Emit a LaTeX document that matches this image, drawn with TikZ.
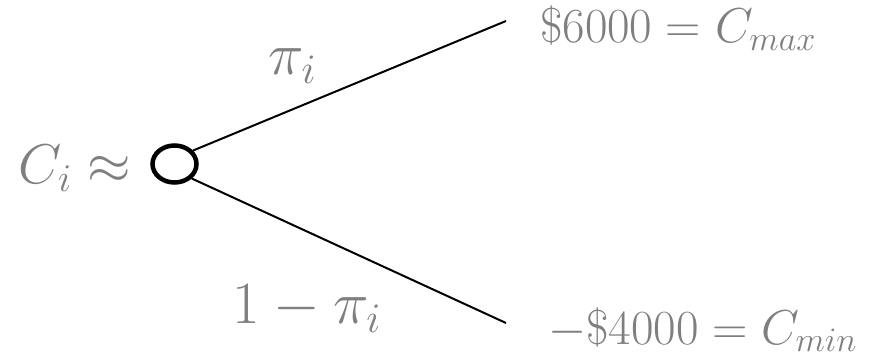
\documentclass[tikz,border=0pt]{standalone}
\usepackage{fix-cm}
\usetikzlibrary{shapes.geometric}
\definecolor{lblgray}{RGB}{127,127,127}
\tikzset{
  branch/.style={draw=black, line width=2pt},
  chance/.style={draw=black, line width=4.5pt, ellipse, minimum width=44pt, minimum height=37pt, inner sep=0pt},
  biglabel/.style={text=lblgray, inner sep=0pt, font=\fontsize{60}{66}\selectfont},
  cilabel/.style={text=lblgray, inner sep=0pt, font=\fontsize{56}{62}\selectfont},
  vallabel/.style={text=lblgray, inner sep=0pt, font=\fontsize{49}{54}\selectfont},
}
\begin{document}
\begin{tikzpicture}[x=1pt,y=-1pt]
\useasboundingbox (0,0) rectangle (872,358);
\node[chance] (root) at (174.5,164) {};
\coordinate (topend) at (506,21);
\coordinate (botend) at (506,323);
\draw[branch] (root.36) -- (topend);
\draw[branch] (root.-40) -- (botend);
\node[cilabel, anchor=base east] (ci) at (131,183) {$C_i\approx$};
\node[biglabel, anchor=base west] (pi) at (268,75) {$\pi_i$};
\node[biglabel, anchor=base west] (onepi) at (232,323) {$1-\pi_i$};
\node[vallabel, anchor=base west] (vmax) at (540,43) {$\$6000=C_{max}$};
\node[vallabel, anchor=base west] (vmin) at (548,344) {$-\$4000=C_{min}$};
\end{tikzpicture}
\end{document}
